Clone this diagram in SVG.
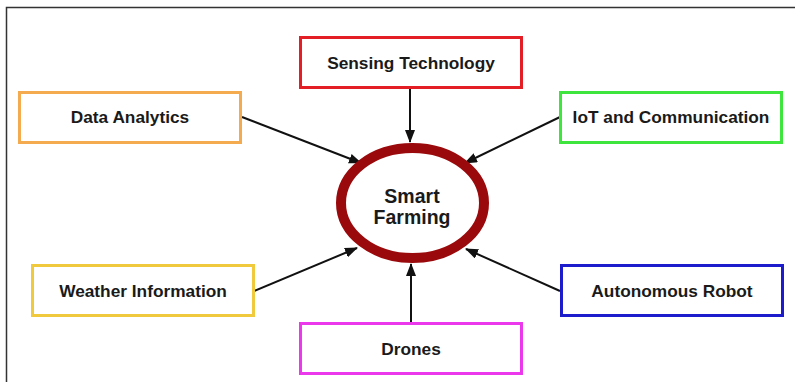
<svg xmlns="http://www.w3.org/2000/svg" width="795" height="382" viewBox="0 0 795 382">
  <defs>
    <marker id="arrow" viewBox="0 0 13 10" refX="12" refY="5" markerWidth="13" markerHeight="10" markerUnits="userSpaceOnUse" orient="auto">
      <path d="M0,0 L13,5 L0,10 Z" fill="#111"/>
    </marker>
    <style>
      .box { fill: #fff; stroke-width: 3; }
      .label { font-family: "Liberation Sans", Arial, sans-serif; font-weight: bold; font-size: 17.3px; fill: #1a1a1a; text-anchor: middle; }
      .hub { font-family: "Liberation Sans", Arial, sans-serif; font-weight: bold; font-size: 19.5px; fill: #1a1a1a; text-anchor: middle; }
      .link { stroke: #111; stroke-width: 2; fill: none; marker-end: url(#arrow); }
    </style>
  </defs>

  <rect x="0" y="0" width="795" height="382" fill="#fff"/>
  <!-- frame -->
  <path d="M6.5,382 V7.5 H795" fill="none" stroke="#333" stroke-width="1.5"/>

  <g id="connectors">
    <line class="link" x1="410" y1="89" x2="410" y2="142"/>
    <line class="link" x1="242" y1="117" x2="361" y2="163"/>
    <line class="link" x1="560" y1="117" x2="465" y2="163"/>
    <line class="link" x1="254" y1="291" x2="357" y2="248"/>
    <line class="link" x1="560" y1="291" x2="466" y2="249"/>
    <line class="link" x1="411" y1="323" x2="411" y2="264"/>
  </g>

  <g id="hub">
    <ellipse cx="412.5" cy="203" rx="71.5" ry="55" fill="#fff" stroke="#9a0a0c" stroke-width="10"/>
    <text class="hub" x="412" y="203">Smart</text>
    <text class="hub" x="412" y="224">Farming</text>
  </g>

  <g id="sensing">
    <rect class="box" x="300.5" y="37.5" width="221" height="50" stroke="#e31e24"/>
    <text class="label" x="411" y="69">Sensing Technology</text>
  </g>
  <g id="analytics">
    <rect class="box" x="19.5" y="92.5" width="221" height="50" stroke="#f4aa4e"/>
    <text class="label" x="130" y="123">Data Analytics</text>
  </g>
  <g id="iot">
    <rect class="box" x="560.5" y="92.5" width="221" height="50" stroke="#3de53d"/>
    <text class="label" x="671" y="123">IoT and Communication</text>
  </g>
  <g id="weather">
    <rect class="box" x="32.5" y="265.5" width="221" height="50" stroke="#f0c93c"/>
    <text class="label" x="143" y="297">Weather Information</text>
  </g>
  <g id="robot">
    <rect class="box" x="561.5" y="265.5" width="221" height="50" stroke="#1c1ccc"/>
    <text class="label" x="672" y="297">Autonomous Robot</text>
  </g>
  <g id="drones">
    <rect class="box" x="300.5" y="323.5" width="221" height="50" stroke="#ec38ec"/>
    <text class="label" x="411" y="355">Drones</text>
  </g>
</svg>
